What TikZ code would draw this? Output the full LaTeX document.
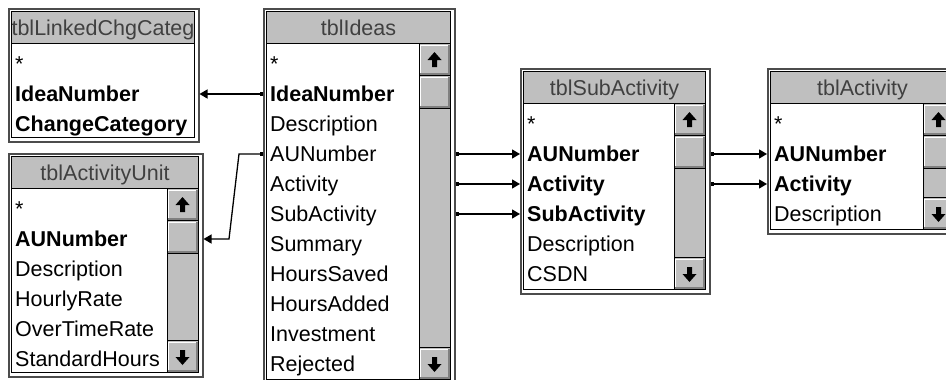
\documentclass[tikz,border=0pt]{standalone}
\usepackage{fontspec}
\setmainfont{Liberation Sans}
\usetikzlibrary{arrows.meta}

\definecolor{btnface}{gray}{0.75}
\definecolor{btnshadow}{gray}{0.5}
\definecolor{framegray}{gray}{0.3}

\newcommand{\fieldfont}{\fontsize{21.5}{25}\selectfont}

\tikzset{
	tableframe/.style = {draw = framegray, fill = white, line width = 1.5pt, inner sep = 0pt},
	field/.style = {anchor = west, inner sep = 0pt, text height = 20pt, text depth = 6pt, font = \fieldfont},
	tabletitle/.style = {field, anchor = center, text = black!75},
	relation/.style = {line width = 1.3pt, {Square[length=3pt,width=4pt]}-{Triangle[length=8pt,width=9pt]}}
}

% raised button, left/top and right/bottom
\newcommand{\winbutton}[4]{%
	\fill[btnface] (#1,#2) rectangle (#3,#4);
	\draw[white, line width = 1.5pt] (#1+1.5,#4-2) -- (#1+1.5,#2+1.5) -- (#3-2,#2+1.5);
	\draw[btnshadow, line width = 2pt] (#1+1,#4-1) -- (#3-1,#4-1) -- (#3-1,#2+1);
}

% scroll bar along the right side: right, top, bottom of the table
\newcommand{\scrollbar}[3]{%
	\pgfmathsetmacro\sbl{#1-35}
	\pgfmathsetmacro\sbr{#1-4}
	\pgfmathsetmacro\sbc{#1-19.5}
	\pgfmathsetmacro\sbt{#2+36}
	\pgfmathsetmacro\sbb{#3-4}
	\fill[btnface] (\sbl,\sbt) rectangle (\sbr,\sbb);
	\winbutton{\sbl}{\sbt}{\sbr}{\sbt+31}
	\winbutton{\sbl}{\sbt+32}{\sbr}{\sbt+64}
	\winbutton{\sbl}{\sbb-31}{\sbr}{\sbb}
	\draw[line width = 1pt] (\sbl,\sbt) -- (\sbl,\sbb);
	\draw[line width = 1pt] (\sbl,\sbt+31.5) -- (\sbr,\sbt+31.5);
	\draw[line width = 1pt] (\sbl,\sbt+64.5) -- (\sbr,\sbt+64.5);
	\draw[line width = 1pt] (\sbl,\sbb-31.5) -- (\sbr,\sbb-31.5);
	% arrow glyphs
	\fill (\sbc-7,\sbt+16) -- (\sbc,\sbt+8) -- (\sbc+7,\sbt+16) -- (\sbc+2.5,\sbt+16)
		-- (\sbc+2.5,\sbt+23) -- (\sbc-2.5,\sbt+23) -- (\sbc-2.5,\sbt+16) -- cycle;
	\fill (\sbc-7,\sbb-15) -- (\sbc,\sbb-7) -- (\sbc+7,\sbb-15) -- (\sbc+2.5,\sbb-15)
		-- (\sbc+2.5,\sbb-22) -- (\sbc-2.5,\sbb-22) -- (\sbc-2.5,\sbb-15) -- cycle;
}

% table window: name, left, top, right, bottom, title, fields
\newcommand{\dbtable}[7]{%
	\node[tableframe, anchor = north west, minimum width = {(#4-#2)*1pt}, minimum height = {(#5-#3)*1pt}] (#1) at (#2,#3) {};
	\draw[line width = 1.5pt] (#2+3.5,#3+3.5) rectangle (#4-3.5,#5-3.5);
	\fill[btnface] (#2+4.25,#3+4.25) rectangle (#4-4.25,#3+35);
	\draw[line width = 1pt] (#2+4,#3+35) -- (#4-4,#3+35);
	\begin{scope}
		\clip (#2+4.25,#3+4.25) rectangle (#4-4.25,#3+35);
		\node[tabletitle] at ({(#2+#4)/2},#3+20) {#6};
	\end{scope}
	\foreach \key/\txt [count = \row from 0] in {#7}
		\node[field] (#1-\key) at (#2+7,#3+56+30*\row) {\txt};
}

\begin{document}
\begin{tikzpicture}[x = 1pt, y = -1pt]
	\fill[white] (0,0) rectangle (946,380);
	\useasboundingbox (0,0) rectangle (946,380);
	\clip (0,0) rectangle (946,380);

	\dbtable{linked}{8}{8}{198}{141}{tblLinkedChgCateg}
		{star/*, IdeaNumber/\textbf{IdeaNumber}, ChangeCategory/\textbf{ChangeCategory}}

	\dbtable{unit}{8}{153}{202}{376}{tblActivityUnit}
		{star/*, AUNumber/\textbf{AUNumber}, Description/Description, HourlyRate/HourlyRate,
		 OverTimeRate/OverTimeRate, StandardHours/StandardHours}
	\scrollbar{202}{153}{376}

	\dbtable{ideas}{263}{8}{454}{383}{tblIdeas}
		{star/*, IdeaNumber/\textbf{IdeaNumber}, Description/Description, AUNumber/AUNumber,
		 Activity/Activity, SubActivity/SubActivity, Summary/Summary, HoursSaved/HoursSaved,
		 HoursAdded/HoursAdded, Investment/Investment, Rejected/Rejected}
	\scrollbar{454}{8}{383}

	\dbtable{sub}{520}{68}{709}{293}{tblSubActivity}
		{star/*, AUNumber/\textbf{AUNumber}, Activity/\textbf{Activity},
		 SubActivity/\textbf{SubActivity}, Description/Description, CSDN/CSDN}
	\scrollbar{709}{68}{293}

	\dbtable{act}{767}{68}{958}{233}{tblActivity}
		{star/*, AUNumber/\textbf{AUNumber}, Activity/\textbf{Activity}, Description/Description}
	\scrollbar{958}{68}{233}

	% joins
	\draw[relation] (ideas.west |- ideas-IdeaNumber) -- (linked.east |- linked-IdeaNumber);

	\path (ideas.west |- ideas-AUNumber) ++(-24,0) coordinate (auTop);
	\path (auTop) ++(-10,0) coordinate (auLow);
	\draw[relation] (ideas.west |- ideas-AUNumber) -- (auTop) -- (auLow |- unit-AUNumber)
		-- (unit.east |- unit-AUNumber);

	\foreach \f in {AUNumber, Activity, SubActivity}
		\draw[relation] (ideas.east |- ideas-\f) -- (sub.west |- sub-\f);
	\foreach \f in {AUNumber, Activity}
		\draw[relation] (sub.east |- sub-\f) -- (act.west |- act-\f);
\end{tikzpicture}
\end{document}
